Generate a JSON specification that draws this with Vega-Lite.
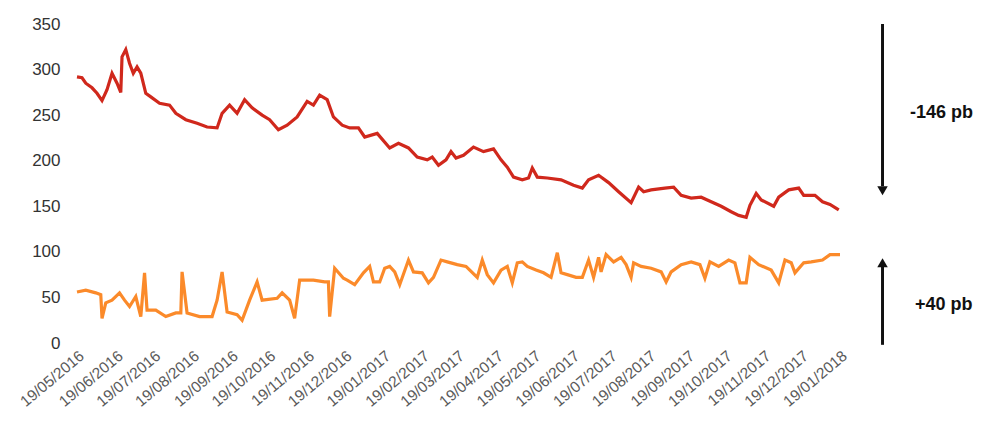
{
  "$schema": "https://vega.github.io/schema/vega-lite/v6.json",
  "autosize": {"type": "none"},
  "width": 763,
  "height": 319,
  "padding": {"left": 77, "top": 24, "right": 145, "bottom": 91},
  "background": "white",
  "config": {"view": {"stroke": null}, "font": "Liberation Sans", "axis": {"labelOverlap": false}},
  "datasets": {
    "series": [
      {"date": "2016-05-19", "value": 292, "s": "red"},
      {"date": "2016-05-23", "value": 291, "s": "red"},
      {"date": "2016-05-26", "value": 285, "s": "red"},
      {"date": "2016-05-31", "value": 280, "s": "red"},
      {"date": "2016-06-04", "value": 274, "s": "red"},
      {"date": "2016-06-08", "value": 266, "s": "red"},
      {"date": "2016-06-12", "value": 278, "s": "red"},
      {"date": "2016-06-16", "value": 296, "s": "red"},
      {"date": "2016-06-20", "value": 285, "s": "red"},
      {"date": "2016-06-23", "value": 275, "s": "red"},
      {"date": "2016-06-24", "value": 314, "s": "red"},
      {"date": "2016-06-27", "value": 322, "s": "red"},
      {"date": "2016-06-30", "value": 307, "s": "red"},
      {"date": "2016-07-03", "value": 296, "s": "red"},
      {"date": "2016-07-06", "value": 303, "s": "red"},
      {"date": "2016-07-09", "value": 296, "s": "red"},
      {"date": "2016-07-13", "value": 274, "s": "red"},
      {"date": "2016-07-17", "value": 270, "s": "red"},
      {"date": "2016-07-24", "value": 263, "s": "red"},
      {"date": "2016-08-01", "value": 261, "s": "red"},
      {"date": "2016-08-06", "value": 252, "s": "red"},
      {"date": "2016-08-14", "value": 245, "s": "red"},
      {"date": "2016-08-23", "value": 241, "s": "red"},
      {"date": "2016-08-31", "value": 237, "s": "red"},
      {"date": "2016-09-08", "value": 236, "s": "red"},
      {"date": "2016-09-12", "value": 252, "s": "red"},
      {"date": "2016-09-18", "value": 261, "s": "red"},
      {"date": "2016-09-24", "value": 252, "s": "red"},
      {"date": "2016-09-30", "value": 267, "s": "red"},
      {"date": "2016-10-06", "value": 258, "s": "red"},
      {"date": "2016-10-14", "value": 250, "s": "red"},
      {"date": "2016-10-20", "value": 245, "s": "red"},
      {"date": "2016-10-27", "value": 234, "s": "red"},
      {"date": "2016-11-03", "value": 239, "s": "red"},
      {"date": "2016-11-11", "value": 248, "s": "red"},
      {"date": "2016-11-19", "value": 265, "s": "red"},
      {"date": "2016-11-24", "value": 261, "s": "red"},
      {"date": "2016-11-29", "value": 272, "s": "red"},
      {"date": "2016-12-05", "value": 267, "s": "red"},
      {"date": "2016-12-10", "value": 248, "s": "red"},
      {"date": "2016-12-17", "value": 239, "s": "red"},
      {"date": "2016-12-23", "value": 236, "s": "red"},
      {"date": "2016-12-30", "value": 236, "s": "red"},
      {"date": "2017-01-04", "value": 226, "s": "red"},
      {"date": "2017-01-14", "value": 230, "s": "red"},
      {"date": "2017-01-24", "value": 214, "s": "red"},
      {"date": "2017-01-31", "value": 219, "s": "red"},
      {"date": "2017-02-08", "value": 214, "s": "red"},
      {"date": "2017-02-15", "value": 204, "s": "red"},
      {"date": "2017-02-23", "value": 201, "s": "red"},
      {"date": "2017-02-27", "value": 204, "s": "red"},
      {"date": "2017-03-04", "value": 195, "s": "red"},
      {"date": "2017-03-10", "value": 201, "s": "red"},
      {"date": "2017-03-14", "value": 210, "s": "red"},
      {"date": "2017-03-18", "value": 203, "s": "red"},
      {"date": "2017-03-24", "value": 206, "s": "red"},
      {"date": "2017-04-01", "value": 215, "s": "red"},
      {"date": "2017-04-09", "value": 210, "s": "red"},
      {"date": "2017-04-17", "value": 213, "s": "red"},
      {"date": "2017-04-23", "value": 201, "s": "red"},
      {"date": "2017-04-28", "value": 193, "s": "red"},
      {"date": "2017-05-03", "value": 182, "s": "red"},
      {"date": "2017-05-10", "value": 179, "s": "red"},
      {"date": "2017-05-15", "value": 181, "s": "red"},
      {"date": "2017-05-18", "value": 192, "s": "red"},
      {"date": "2017-05-22", "value": 182, "s": "red"},
      {"date": "2017-05-30", "value": 181, "s": "red"},
      {"date": "2017-06-10", "value": 179, "s": "red"},
      {"date": "2017-06-20", "value": 173, "s": "red"},
      {"date": "2017-06-27", "value": 170, "s": "red"},
      {"date": "2017-07-02", "value": 179, "s": "red"},
      {"date": "2017-07-10", "value": 184, "s": "red"},
      {"date": "2017-07-18", "value": 176, "s": "red"},
      {"date": "2017-07-26", "value": 166, "s": "red"},
      {"date": "2017-08-05", "value": 154, "s": "red"},
      {"date": "2017-08-11", "value": 171, "s": "red"},
      {"date": "2017-08-15", "value": 166, "s": "red"},
      {"date": "2017-08-21", "value": 168, "s": "red"},
      {"date": "2017-09-01", "value": 170, "s": "red"},
      {"date": "2017-09-08", "value": 171, "s": "red"},
      {"date": "2017-09-14", "value": 162, "s": "red"},
      {"date": "2017-09-22", "value": 159, "s": "red"},
      {"date": "2017-09-30", "value": 160, "s": "red"},
      {"date": "2017-10-08", "value": 155, "s": "red"},
      {"date": "2017-10-16", "value": 150, "s": "red"},
      {"date": "2017-10-24", "value": 144, "s": "red"},
      {"date": "2017-10-30", "value": 140, "s": "red"},
      {"date": "2017-11-05", "value": 138, "s": "red"},
      {"date": "2017-11-08", "value": 151, "s": "red"},
      {"date": "2017-11-13", "value": 164, "s": "red"},
      {"date": "2017-11-17", "value": 157, "s": "red"},
      {"date": "2017-11-27", "value": 150, "s": "red"},
      {"date": "2017-12-01", "value": 160, "s": "red"},
      {"date": "2017-12-09", "value": 168, "s": "red"},
      {"date": "2017-12-17", "value": 170, "s": "red"},
      {"date": "2017-12-21", "value": 162, "s": "red"},
      {"date": "2017-12-30", "value": 162, "s": "red"},
      {"date": "2018-01-05", "value": 155, "s": "red"},
      {"date": "2018-01-11", "value": 152, "s": "red"},
      {"date": "2018-01-18", "value": 146, "s": "red"},

      {"date": "2016-05-19", "value": 56, "s": "orange"},
      {"date": "2016-05-26", "value": 58, "s": "orange"},
      {"date": "2016-06-03", "value": 55, "s": "orange"},
      {"date": "2016-06-07", "value": 53, "s": "orange"},
      {"date": "2016-06-08", "value": 27, "s": "orange"},
      {"date": "2016-06-11", "value": 44, "s": "orange"},
      {"date": "2016-06-16", "value": 47, "s": "orange"},
      {"date": "2016-06-22", "value": 55, "s": "orange"},
      {"date": "2016-06-26", "value": 47, "s": "orange"},
      {"date": "2016-06-30", "value": 40, "s": "orange"},
      {"date": "2016-07-05", "value": 51, "s": "orange"},
      {"date": "2016-07-09", "value": 29, "s": "orange"},
      {"date": "2016-07-12", "value": 77, "s": "orange"},
      {"date": "2016-07-14", "value": 36, "s": "orange"},
      {"date": "2016-07-21", "value": 36, "s": "orange"},
      {"date": "2016-07-29", "value": 29, "s": "orange"},
      {"date": "2016-08-06", "value": 33, "s": "orange"},
      {"date": "2016-08-10", "value": 33, "s": "orange"},
      {"date": "2016-08-11", "value": 78, "s": "orange"},
      {"date": "2016-08-15", "value": 33, "s": "orange"},
      {"date": "2016-08-25", "value": 29, "s": "orange"},
      {"date": "2016-09-04", "value": 29, "s": "orange"},
      {"date": "2016-09-08", "value": 47, "s": "orange"},
      {"date": "2016-09-12", "value": 78, "s": "orange"},
      {"date": "2016-09-16", "value": 34, "s": "orange"},
      {"date": "2016-09-24", "value": 31, "s": "orange"},
      {"date": "2016-09-28", "value": 25, "s": "orange"},
      {"date": "2016-10-04", "value": 47, "s": "orange"},
      {"date": "2016-10-10", "value": 67, "s": "orange"},
      {"date": "2016-10-14", "value": 47, "s": "orange"},
      {"date": "2016-10-26", "value": 49, "s": "orange"},
      {"date": "2016-10-30", "value": 55, "s": "orange"},
      {"date": "2016-11-05", "value": 47, "s": "orange"},
      {"date": "2016-11-09", "value": 27, "s": "orange"},
      {"date": "2016-11-13", "value": 69, "s": "orange"},
      {"date": "2016-11-24", "value": 69, "s": "orange"},
      {"date": "2016-12-03", "value": 67, "s": "orange"},
      {"date": "2016-12-06", "value": 67, "s": "orange"},
      {"date": "2016-12-07", "value": 29, "s": "orange"},
      {"date": "2016-12-11", "value": 82, "s": "orange"},
      {"date": "2016-12-18", "value": 71, "s": "orange"},
      {"date": "2016-12-21", "value": 69, "s": "orange"},
      {"date": "2016-12-27", "value": 64, "s": "orange"},
      {"date": "2017-01-03", "value": 77, "s": "orange"},
      {"date": "2017-01-08", "value": 84, "s": "orange"},
      {"date": "2017-01-11", "value": 67, "s": "orange"},
      {"date": "2017-01-16", "value": 67, "s": "orange"},
      {"date": "2017-01-20", "value": 82, "s": "orange"},
      {"date": "2017-01-24", "value": 84, "s": "orange"},
      {"date": "2017-01-28", "value": 78, "s": "orange"},
      {"date": "2017-02-01", "value": 64, "s": "orange"},
      {"date": "2017-02-08", "value": 91, "s": "orange"},
      {"date": "2017-02-12", "value": 78, "s": "orange"},
      {"date": "2017-02-19", "value": 77, "s": "orange"},
      {"date": "2017-02-24", "value": 66, "s": "orange"},
      {"date": "2017-02-28", "value": 72, "s": "orange"},
      {"date": "2017-03-06", "value": 91, "s": "orange"},
      {"date": "2017-03-11", "value": 89, "s": "orange"},
      {"date": "2017-03-19", "value": 86, "s": "orange"},
      {"date": "2017-03-26", "value": 84, "s": "orange"},
      {"date": "2017-04-04", "value": 72, "s": "orange"},
      {"date": "2017-04-08", "value": 91, "s": "orange"},
      {"date": "2017-04-12", "value": 75, "s": "orange"},
      {"date": "2017-04-17", "value": 66, "s": "orange"},
      {"date": "2017-04-23", "value": 80, "s": "orange"},
      {"date": "2017-04-28", "value": 84, "s": "orange"},
      {"date": "2017-05-02", "value": 66, "s": "orange"},
      {"date": "2017-05-06", "value": 88, "s": "orange"},
      {"date": "2017-05-10", "value": 89, "s": "orange"},
      {"date": "2017-05-14", "value": 84, "s": "orange"},
      {"date": "2017-05-21", "value": 80, "s": "orange"},
      {"date": "2017-05-27", "value": 77, "s": "orange"},
      {"date": "2017-06-02", "value": 72, "s": "orange"},
      {"date": "2017-06-07", "value": 99, "s": "orange"},
      {"date": "2017-06-10", "value": 77, "s": "orange"},
      {"date": "2017-06-15", "value": 75, "s": "orange"},
      {"date": "2017-06-22", "value": 72, "s": "orange"},
      {"date": "2017-06-27", "value": 72, "s": "orange"},
      {"date": "2017-07-02", "value": 91, "s": "orange"},
      {"date": "2017-07-06", "value": 72, "s": "orange"},
      {"date": "2017-07-10", "value": 94, "s": "orange"},
      {"date": "2017-07-12", "value": 78, "s": "orange"},
      {"date": "2017-07-16", "value": 97, "s": "orange"},
      {"date": "2017-07-22", "value": 89, "s": "orange"},
      {"date": "2017-07-28", "value": 94, "s": "orange"},
      {"date": "2017-08-01", "value": 86, "s": "orange"},
      {"date": "2017-08-05", "value": 72, "s": "orange"},
      {"date": "2017-08-07", "value": 88, "s": "orange"},
      {"date": "2017-08-13", "value": 84, "s": "orange"},
      {"date": "2017-08-21", "value": 82, "s": "orange"},
      {"date": "2017-08-29", "value": 78, "s": "orange"},
      {"date": "2017-09-02", "value": 67, "s": "orange"},
      {"date": "2017-09-06", "value": 78, "s": "orange"},
      {"date": "2017-09-14", "value": 86, "s": "orange"},
      {"date": "2017-09-22", "value": 89, "s": "orange"},
      {"date": "2017-09-29", "value": 86, "s": "orange"},
      {"date": "2017-10-03", "value": 71, "s": "orange"},
      {"date": "2017-10-07", "value": 89, "s": "orange"},
      {"date": "2017-10-14", "value": 84, "s": "orange"},
      {"date": "2017-10-22", "value": 91, "s": "orange"},
      {"date": "2017-10-27", "value": 88, "s": "orange"},
      {"date": "2017-10-31", "value": 66, "s": "orange"},
      {"date": "2017-11-05", "value": 66, "s": "orange"},
      {"date": "2017-11-08", "value": 94, "s": "orange"},
      {"date": "2017-11-15", "value": 86, "s": "orange"},
      {"date": "2017-11-25", "value": 80, "s": "orange"},
      {"date": "2017-12-01", "value": 66, "s": "orange"},
      {"date": "2017-12-06", "value": 91, "s": "orange"},
      {"date": "2017-12-11", "value": 88, "s": "orange"},
      {"date": "2017-12-14", "value": 77, "s": "orange"},
      {"date": "2017-12-21", "value": 88, "s": "orange"},
      {"date": "2017-12-27", "value": 89, "s": "orange"},
      {"date": "2018-01-05", "value": 91, "s": "orange"},
      {"date": "2018-01-11", "value": 97, "s": "orange"},
      {"date": "2018-01-19", "value": 97, "s": "orange"}
    ],
    "arrows": [
      {"date": "2018-02-22", "value": 350, "to": 172},
      {"date": "2018-02-22", "value": -2, "to": 84}
    ],
    "heads": [
      {"date": "2018-02-22", "value": 167, "shape": "triangle-down"},
      {"date": "2018-02-22", "value": 88, "shape": "triangle-up"}
    ],
    "labels": [
      {"date": "2018-03-16", "value": 252, "label": "-146 pb"},
      {"date": "2018-03-20", "value": 42, "label": "+40 pb"}
    ]
  },
  "encoding": {
    "x": {
      "field": "date", "type": "temporal",
      "scale": {"type": "utc", "domain": [{"year": 2016, "month": 5, "date": 19, "utc": true}, {"year": 2018, "month": 1, "date": 19, "utc": true}]},
      "axis": {
        "title": null, "grid": false, "domain": false, "ticks": false,
        "format": "%d/%m/%Y", "labelAngle": -40, "labelFontSize": 15.5,
        "labelColor": "#5a5a5a", "labelPadding": 5, "labelOverlap": false, "labelBound": false,
        "values": [
          {"year": 2016, "month": 5, "date": 19, "utc": true},
          {"year": 2016, "month": 6, "date": 19, "utc": true},
          {"year": 2016, "month": 7, "date": 19, "utc": true},
          {"year": 2016, "month": 8, "date": 19, "utc": true},
          {"year": 2016, "month": 9, "date": 19, "utc": true},
          {"year": 2016, "month": 10, "date": 19, "utc": true},
          {"year": 2016, "month": 11, "date": 19, "utc": true},
          {"year": 2016, "month": 12, "date": 19, "utc": true},
          {"year": 2017, "month": 1, "date": 19, "utc": true},
          {"year": 2017, "month": 2, "date": 19, "utc": true},
          {"year": 2017, "month": 3, "date": 19, "utc": true},
          {"year": 2017, "month": 4, "date": 19, "utc": true},
          {"year": 2017, "month": 5, "date": 19, "utc": true},
          {"year": 2017, "month": 6, "date": 19, "utc": true},
          {"year": 2017, "month": 7, "date": 19, "utc": true},
          {"year": 2017, "month": 8, "date": 19, "utc": true},
          {"year": 2017, "month": 9, "date": 19, "utc": true},
          {"year": 2017, "month": 10, "date": 19, "utc": true},
          {"year": 2017, "month": 11, "date": 19, "utc": true},
          {"year": 2017, "month": 12, "date": 19, "utc": true},
          {"year": 2018, "month": 1, "date": 19, "utc": true}
        ]
      }
    },
    "y": {
      "field": "value", "type": "quantitative",
      "scale": {"domain": [0, 350]},
      "axis": {
        "title": null, "grid": false, "domain": false, "ticks": false,
        "values": [0, 50, 100, 150, 200, 250, 300, 350],
        "labelFontSize": 17, "labelColor": "#333333", "labelPadding": 17
      }
    }
  },
  "layer": [
    {
      "data": {"name": "series"},
      "mark": {"type": "line", "strokeWidth": 3.2, "clip": false},
      "encoding": {
        "color": {
          "field": "s", "type": "nominal",
          "scale": {"domain": ["red", "orange"], "range": ["#d0281c", "#fb8a2a"]},
          "legend": null
        }
      }
    },
    {
      "data": {"name": "arrows"},
      "mark": {"type": "rule", "strokeWidth": 3, "color": "#111111", "clip": false},
      "encoding": {
        "y2": {"field": "to"}
      }
    },
    {
      "data": {"name": "heads"},
      "mark": {"type": "point", "filled": true, "size": 110, "color": "#111111", "opacity": 1, "clip": false},
      "encoding": {
        "shape": {"field": "shape", "type": "nominal", "scale": null}
      }
    },
    {
      "data": {"name": "labels"},
      "mark": {"type": "text", "align": "left", "baseline": "middle", "fontSize": 18, "fontWeight": "bold", "color": "#111111", "clip": false},
      "encoding": {
        "text": {"field": "label"}
      }
    }
  ]
}
